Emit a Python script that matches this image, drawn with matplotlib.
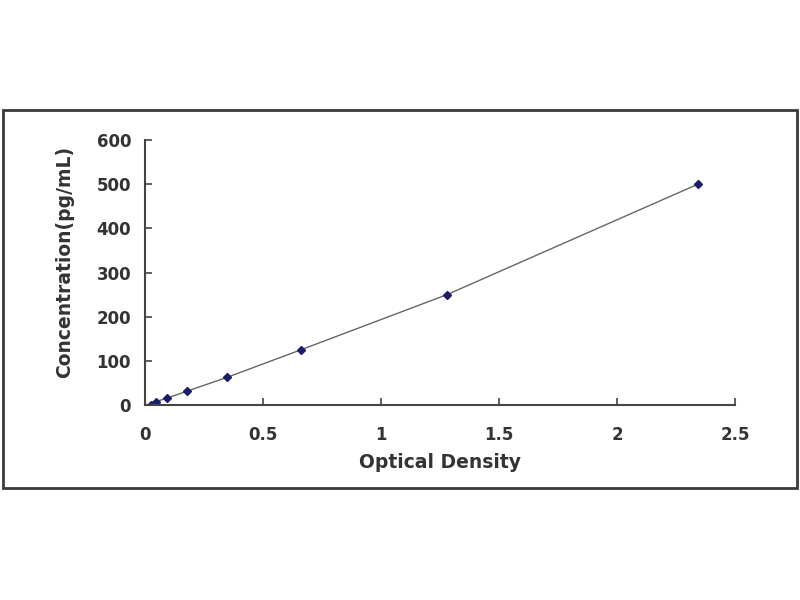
import numpy as np
import matplotlib.pyplot as plt
from matplotlib.patches import Rectangle

plt.rcParams['font.family'] = ['DejaVu Sans']

od = [0.025, 0.048, 0.093, 0.178, 0.347, 0.661, 1.28, 2.343]
conc = [0, 7.8, 15.6, 31.25, 62.5, 125, 250, 500]

fig = plt.figure(figsize=(8, 6), dpi=100)

# outer frame around the chart
fig.patches.append(Rectangle((3 / 800, 1 - 488 / 600), 794 / 800, 378 / 600,
                             transform=fig.transFigure, fill=False,
                             edgecolor="#3a3a3a", linewidth=2))

ax = fig.add_axes([145 / 800, 1 - 405 / 600, 590 / 800, 265 / 600])
ax.plot(od, conc, color="#666666", linewidth=1, zorder=1)
ax.plot(od, conc, linestyle="none", marker="D", markersize=4,
        color="#1c1c6e", zorder=2)

ax.set_xlim(0, 2.5)
ax.set_ylim(0, 600)
ax.set_xticks([0, 0.5, 1, 1.5, 2, 2.5])
ax.set_xticklabels(["0", "0.5", "1", "1.5", "2", "2.5"])
ax.set_yticks([0, 100, 200, 300, 400, 500, 600])

for s in ["top", "right"]:
    ax.spines[s].set_visible(False)
for s in ["left", "bottom"]:
    ax.spines[s].set_color("#444444")
    ax.spines[s].set_linewidth(1.5)

ax.tick_params(direction="in", length=5, width=1.2, color="#444444",
               labelsize=12, labelcolor="#333333")
ax.tick_params(axis="x", pad=15)
ax.tick_params(axis="y", pad=10)
for lab in ax.get_xticklabels() + ax.get_yticklabels():
    lab.set_fontweight("bold")

ax.set_xlabel("Optical Density", fontsize=13.5, fontweight="bold",
              color="#333333", va="center")
ax.set_ylabel("Concentration(pg/mL)", fontsize=13.5, fontweight="bold",
              color="#333333", va="center")
ax.xaxis.set_label_coords(0.5, -58 / 265)
ax.yaxis.set_label_coords(-80 / 590, 0.54)

fig.savefig("out.png", dpi=100)
